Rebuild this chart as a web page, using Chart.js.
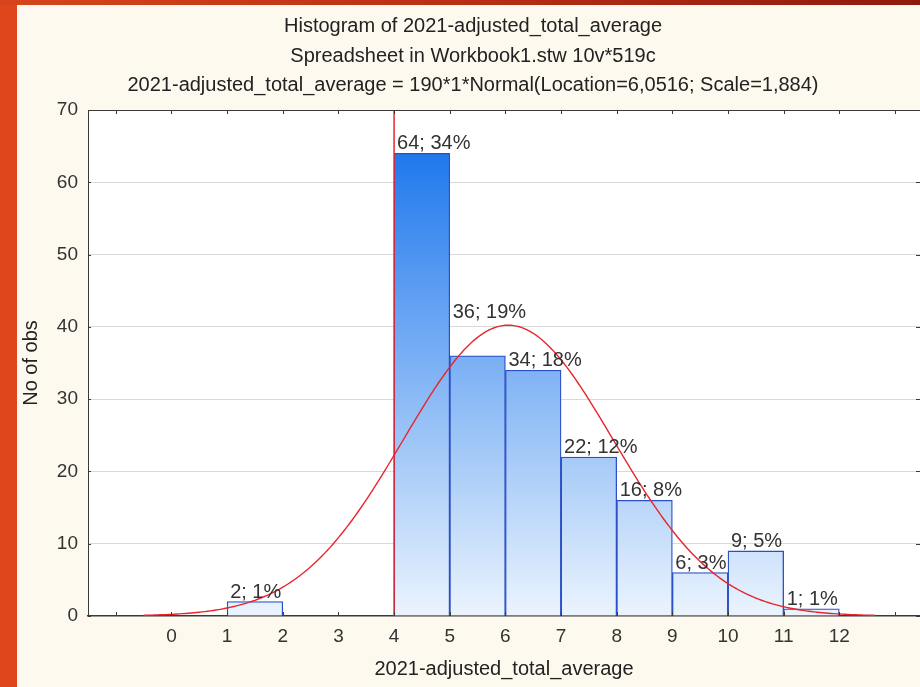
<!DOCTYPE html>
<html>
<head>
<meta charset="utf-8">
<title>Histogram of 2021-adjusted_total_average</title>
<script src="https://cdn.jsdelivr.net/npm/chart.js@4.4.1/dist/chart.umd.min.js"></script>
<style>
  html, body { margin: 0; padding: 0; }
  body { width: 920px; height: 687px; overflow: hidden; background: #fdf9ee; position: relative; }
  #edgeLeft { position: absolute; left: 0; top: 0; width: 17px; height: 687px; background: #e0461b; }
  #edgeTop { position: absolute; left: 0; top: 0; width: 920px; height: 5px;
             background: linear-gradient(90deg, #d8451b 0%, #b52d14 55%, #8e1a0e 100%); }
  #wrap { position: absolute; left: 0; top: 0; width: 920px; height: 687px; }
</style>
</head>
<body>
<div id="edgeLeft"></div>
<div id="edgeTop"></div>
<div id="wrap"><canvas id="chart"></canvas></div>
<script>
// Histogram bins (left edge of each unit-wide bin) and observation counts
const binStarts = [1, 2, 3, 4, 5, 6, 7, 8, 9, 10, 11];
const counts    = [2, 0, 0, 64, 36, 34, 22, 16, 6, 9, 1];
const binWidth  = 1;

// Axis ticks
const xTickValues = [-1, 0, 1, 2, 3, 4, 5, 6, 7, 8, 9, 10, 11, 12, 13];
const xTickLabels = ['', '0', '1', '2', '3', '4', '5', '6', '7', '8', '9', '10', '11', '12', ''];
const yTickValues = [0, 10, 20, 30, 40, 50, 60, 70];

// Fitted normal curve: 190*1*Normal(Location=6,0516; Scale=1,884)
const fitN = 190;
const fitLocation = 6.0516;
const fitScale = 1.884;
const curveFrom = -0.5;
const curveTo = 12.65;

// Vertical reference line
const refLineX = 4;

const titleLines = [
  'Histogram of 2021-adjusted_total_average',
  'Spreadsheet in Workbook1.stw 10v*519c',
  '2021-adjusted_total_average = 190*1*Normal(Location=6,0516; Scale=1,884)'
];
const xTitle = '2021-adjusted_total_average';
const yTitle = 'No of obs';

const FONT = '"Liberation Sans", Arial, sans-serif';
Chart.defaults.font.family = FONT;
Chart.defaults.color = '#333';

function fitted(v) {
  const z = (v - fitLocation) / fitScale;
  return fitN * binWidth * Math.exp(-0.5 * z * z) / (fitScale * Math.sqrt(2 * Math.PI));
}

const total = counts.reduce((a, b) => a + b, 0);

const barPoints = binStarts
  .map((s, i) => ({ x: s + binWidth / 2, y: counts[i] }))
  .filter(p => p.y > 0);

const curvePoints = [];
for (let k = 0; curveFrom + k * 0.05 <= curveTo + 1e-9; k++) {
  const v = curveFrom + k * 0.05;
  curvePoints.push({ x: v, y: fitted(v) });
}

// White plot background
const plotBackground = {
  id: 'plotBackground',
  beforeDraw(chart) {
    const { ctx, chartArea: a } = chart;
    ctx.save();
    ctx.fillStyle = '#ffffff';
    ctx.fillRect(a.left, a.top, a.right - a.left, a.bottom - a.top);
    ctx.restore();
  }
};

// Frame: top border and the small inward tick marks on all four sides
const framePlugin = {
  id: 'frame',
  afterDatasetsDraw(chart) {
    const { ctx, chartArea: a, scales: { x, y } } = chart;
    ctx.save();
    ctx.strokeStyle = '#3a3a3a';
    ctx.lineWidth = 1;
    ctx.beginPath();
    ctx.moveTo(a.left, a.top + 0.5);
    ctx.lineTo(a.right, a.top + 0.5);
    xTickValues.forEach(v => {
      const px = Math.round(x.getPixelForValue(v)) + 0.5;
      ctx.moveTo(px, a.bottom); ctx.lineTo(px, a.bottom - 4);
      ctx.moveTo(px, a.top); ctx.lineTo(px, a.top + 4);
    });
    yTickValues.forEach(v => {
      const py = Math.round(y.getPixelForValue(v)) + 0.5;
      ctx.moveTo(a.left, py); ctx.lineTo(a.left + 3, py);
      ctx.moveTo(a.right, py); ctx.lineTo(a.right - 4, py);
    });
    ctx.stroke();
    ctx.restore();
  }
};

// Titles above the plot
const titlePlugin = {
  id: 'titles',
  afterDraw(chart) {
    const { ctx } = chart;
    ctx.save();
    ctx.font = '20px ' + FONT;
    ctx.fillStyle = '#222';
    ctx.textAlign = 'center';
    ctx.textBaseline = 'alphabetic';
    titleLines.forEach((t, i) => ctx.fillText(t, 473, 32 + i * 29.5));
    ctx.restore();
  }
};

// "count; percent" labels over each non-empty bin
const valueLabels = {
  id: 'valueLabels',
  afterDatasetsDraw(chart, args, opts) {
    const { ctx, scales: { x, y } } = chart;
    ctx.save();
    ctx.font = '20px ' + FONT;
    ctx.fillStyle = '#333';
    ctx.textAlign = 'left';
    ctx.textBaseline = 'alphabetic';
    binStarts.forEach((s, i) => {
      if (!counts[i]) return;
      const text = counts[i] + '; ' + Math.round(counts[i] / total * 100) + '%';
      const left = x.getPixelForValue(s);
      const right = x.getPixelForValue(s + binWidth);
      const w = ctx.measureText(text).width;
      const tx = Math.max(left + 3, (left + right) / 2 - w / 2);
      let base = y.getPixelForValue(counts[i]) - 4;
      if (opts.aboveCurve.includes(s)) {
        // keep this label clear of the fitted curve
        let top = Infinity;
        for (let px = tx; px <= tx + w; px += 2) {
          top = Math.min(top, y.getPixelForValue(fitted(x.getValueForPixel(px))));
        }
        base = Math.min(base, top - 7);
      }
      ctx.fillText(text, tx, base);
    });
    ctx.restore();
  }
};

function barGradient(context) {
  const { chart } = context;
  const a = chart.chartArea;
  if (!a) return '#7ab3f5';
  const g = chart.ctx.createLinearGradient(0, a.top, 0, a.bottom);
  g.addColorStop(0, '#0d6dec');
  g.addColorStop(1, '#ebf4fd');
  return g;
}

new Chart(document.getElementById('chart'), {
  type: 'bar',
  data: {
    datasets: [
      {
        type: 'line',
        data: [{ x: refLineX, y: 0 }, { x: refLineX, y: 70 }],
        borderColor: '#e8262e',
        borderWidth: 1.5,
        pointRadius: 0,
        order: 1
      },
      {
        type: 'line',
        data: curvePoints,
        borderColor: '#e8262e',
        borderWidth: 1.4,
        pointRadius: 0,
        tension: 0,
        order: 2
      },
      {
        type: 'bar',
        data: barPoints,
        backgroundColor: barGradient,
        borderColor: '#2a4fc6',
        borderWidth: 1.3,
        borderSkipped: 'start',
        barPercentage: 1,
        categoryPercentage: 1,
        order: 3
      }
    ]
  },
  options: {
    responsive: true,
    maintainAspectRatio: false,
    animation: false,
    events: [],
    layout: { padding: { left: 17, top: 110, right: 0, bottom: 0 } },
    plugins: {
      legend: { display: false },
      tooltip: { enabled: false },
      title: { display: false },
      valueLabels: { aboveCurve: [5] }
    },
    scales: {
      x: {
        type: 'linear',
        min: -1.5,
        max: 13.45,
        offset: false,
        afterBuildTicks(scale) { scale.ticks = xTickValues.map(v => ({ value: v })); },
        afterFit(scale) { scale.height = 71; },
        grid: { display: false, drawTicks: false },
        border: { display: true, color: '#3a3a3a', width: 1.5 },
        ticks: {
          padding: 9,
          maxRotation: 0,
          autoSkip: false,
          font: { size: 19 },
          color: '#333',
          callback: (v, i) => xTickLabels[i]
        },
        title: { display: true, text: xTitle, font: { size: 20 }, color: '#222', padding: { top: 0, bottom: 6 } }
      },
      y: {
        min: 0,
        max: 70,
        afterBuildTicks(scale) { scale.ticks = yTickValues.map(v => ({ value: v })); },
        afterFit(scale) { scale.width = 71; },
        grid: {
          drawTicks: false,
          color: ctx => (ctx.tick.value === 0 || ctx.tick.value === 70) ? 'rgba(0,0,0,0)' : '#d9d9d9',
          lineWidth: 1
        },
        border: { display: true, color: '#3a3a3a', width: 1 },
        ticks: { padding: 10, font: { size: 19 }, color: '#333' },
        title: { display: true, text: yTitle, font: { size: 20 }, color: '#222', padding: { top: 2, bottom: 0 } }
      }
    }
  },
  plugins: [plotBackground, framePlugin, valueLabels, titlePlugin]
});
</script>
</body>
</html>
